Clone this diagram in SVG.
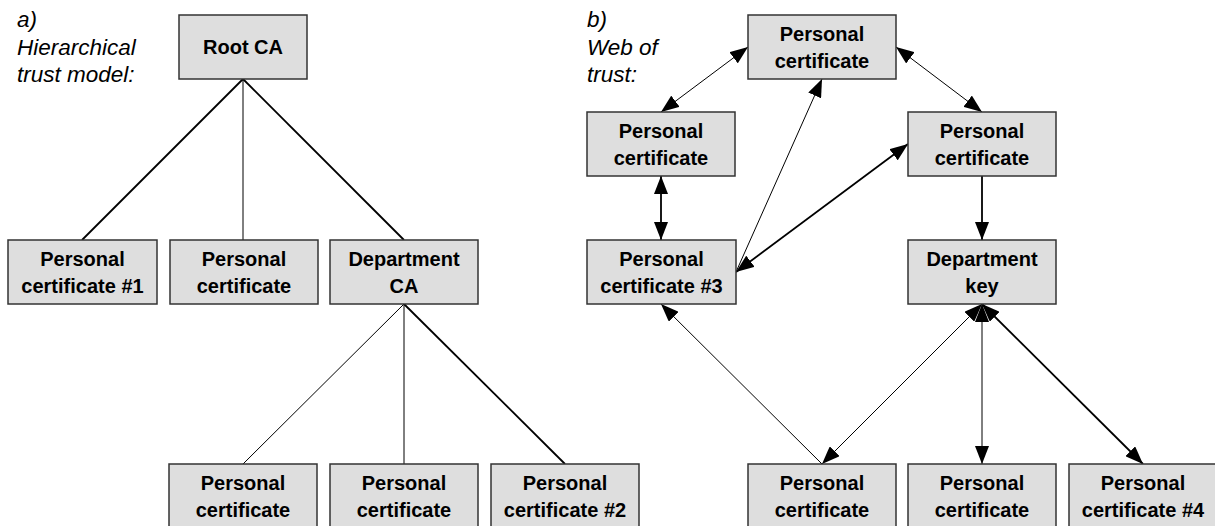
<svg xmlns="http://www.w3.org/2000/svg" width="1215" height="526" viewBox="0 0 1215 526">
<style>
.box{fill:#dedede;stroke:#333;stroke-width:1.5}
.t{font-family:"Liberation Sans",Arial,sans-serif;font-weight:bold;font-size:20px;fill:#000;text-anchor:middle}
.lab{font-family:"Liberation Sans",Arial,sans-serif;font-style:italic;font-size:22.5px;fill:#000}
.c{stroke:#000;fill:none;stroke-width:1}
.k{stroke:#000;fill:none;stroke-width:1.8}
.both{marker-start:url(#ah);marker-end:url(#ah)}
.end{marker-end:url(#ah)}
</style>
<defs>
<marker id="ah" viewBox="0 0 18 14" refX="18" refY="7" markerWidth="18" markerHeight="14" markerUnits="userSpaceOnUse" orient="auto-start-reverse">
<path d="M0,0 L18,7 L0,14 z" fill="#000"/>
</marker>
</defs>
<rect width="1215" height="526" fill="#fff"/>
<g id="labels">
<text class="lab" x="17" y="27">a)</text>
<text class="lab" x="17" y="55">Hierarchical</text>
<text class="lab" x="17" y="82">trust model:</text>
<text class="lab" x="587" y="27">b)</text>
<text class="lab" x="587" y="55">Web of</text>
<text class="lab" x="587" y="82">trust:</text>
</g>
<g id="connectors">
<line class="k" x1="243" y1="79" x2="82" y2="240"/>
<line class="c" x1="243" y1="79" x2="243" y2="240"/>
<line class="k" x1="243" y1="79" x2="404" y2="240"/>
<line class="c" x1="404" y1="304" x2="243" y2="464"/>
<line class="c" x1="404" y1="304" x2="404" y2="464"/>
<line class="k" x1="404" y1="304" x2="565" y2="464"/>
<line class="c both" x1="748" y1="47" x2="661" y2="112"/>
<line class="c both" x1="896" y1="47" x2="982" y2="112"/>
<line class="k both" x1="661" y1="176" x2="661" y2="240"/>
<line class="c end" x1="736" y1="272" x2="822" y2="79"/>
<line class="k both" x1="736" y1="272" x2="908" y2="144"/>
<line class="k end" x1="982" y1="176" x2="982" y2="240"/>
<line class="c end" x1="822" y1="464" x2="661" y2="304"/>
<line class="c both" x1="982" y1="304" x2="822" y2="464"/>
<line class="c both" x1="982" y1="304" x2="982" y2="464"/>
<line class="k both" x1="982" y1="304" x2="1143" y2="464"/>
</g>
<g id="root-ca"><rect class="box" x="179" y="15" width="128" height="64"/><text class="t" x="243" y="54">Root CA</text></g>
<g id="h-pc1"><rect class="box" x="8" y="240" width="149" height="64"/><text class="t" x="82.5" y="266">Personal</text><text class="t" x="82.5" y="293">certificate #1</text></g>
<g id="h-pc"><rect class="box" x="170" y="240" width="148" height="64"/><text class="t" x="244" y="266">Personal</text><text class="t" x="244" y="293">certificate</text></g>
<g id="dept-ca"><rect class="box" x="330" y="240" width="148" height="64"/><text class="t" x="404" y="266">Department</text><text class="t" x="404" y="293">CA</text></g>
<g id="h-pc-b1"><rect class="box" x="169" y="464" width="148" height="64"/><text class="t" x="243" y="490">Personal</text><text class="t" x="243" y="517">certificate</text></g>
<g id="h-pc-b2"><rect class="box" x="330" y="464" width="148" height="64"/><text class="t" x="404" y="490">Personal</text><text class="t" x="404" y="517">certificate</text></g>
<g id="h-pc2"><rect class="box" x="491" y="464" width="148" height="64"/><text class="t" x="565" y="490">Personal</text><text class="t" x="565" y="517">certificate #2</text></g>
<g id="w-top"><rect class="box" x="748" y="15" width="148" height="64"/><text class="t" x="822" y="41">Personal</text><text class="t" x="822" y="68">certificate</text></g>
<g id="w-left"><rect class="box" x="587" y="112" width="148" height="64"/><text class="t" x="661" y="138">Personal</text><text class="t" x="661" y="165">certificate</text></g>
<g id="w-right"><rect class="box" x="908" y="112" width="148" height="64"/><text class="t" x="982" y="138">Personal</text><text class="t" x="982" y="165">certificate</text></g>
<g id="w-pc3"><rect class="box" x="587" y="240" width="149" height="64"/><text class="t" x="661.5" y="266">Personal</text><text class="t" x="661.5" y="293">certificate #3</text></g>
<g id="w-dept"><rect class="box" x="908" y="240" width="148" height="64"/><text class="t" x="982" y="266">Department</text><text class="t" x="982" y="293">key</text></g>
<g id="w-b1"><rect class="box" x="748" y="464" width="148" height="64"/><text class="t" x="822" y="490">Personal</text><text class="t" x="822" y="517">certificate</text></g>
<g id="w-b2"><rect class="box" x="908" y="464" width="148" height="64"/><text class="t" x="982" y="490">Personal</text><text class="t" x="982" y="517">certificate</text></g>
<g id="w-pc4"><rect class="box" x="1069" y="464" width="148" height="64"/><text class="t" x="1143" y="490">Personal</text><text class="t" x="1143" y="517">certificate #4</text></g>
</svg>
